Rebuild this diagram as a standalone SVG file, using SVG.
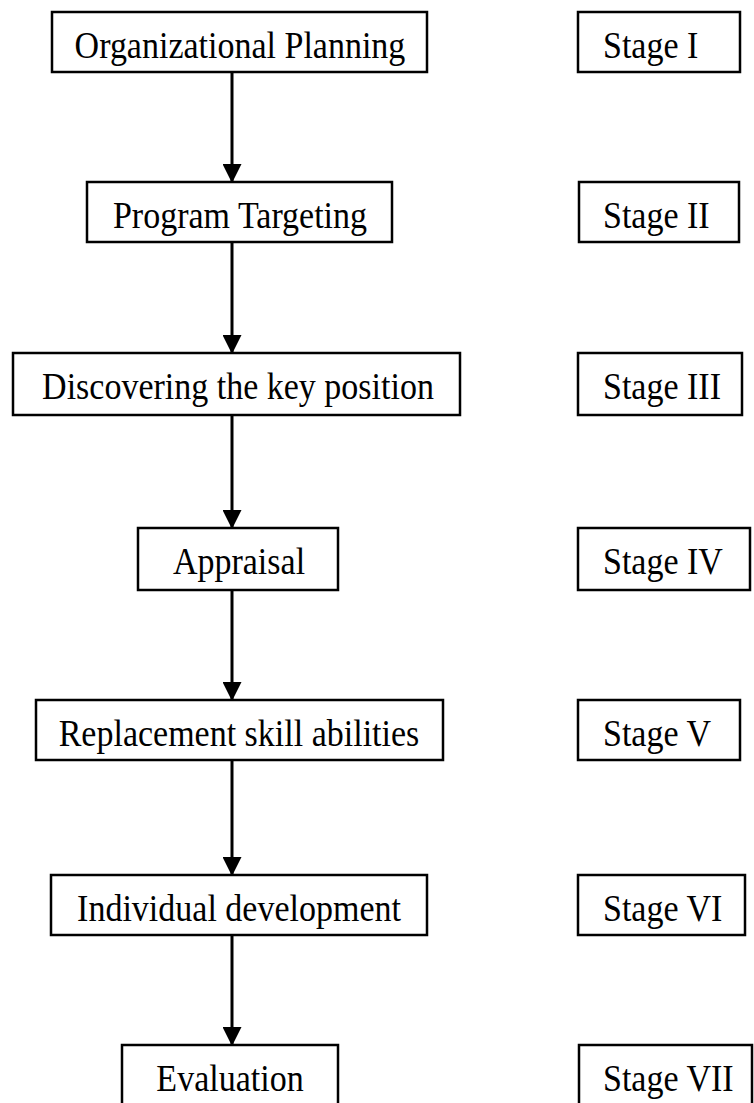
<svg xmlns="http://www.w3.org/2000/svg" width="754" height="1103" viewBox="0 0 754 1103">
<defs>
<style>
rect.box{fill:#fff;stroke:#000;stroke-width:2.5}
text{font-family:"Liberation Serif","Times New Roman",serif;font-size:34px;fill:#000}
text.c{text-anchor:middle}
.conn line{stroke:#000;stroke-width:3}
</style>
<marker id="ah" markerUnits="userSpaceOnUse" markerWidth="19" markerHeight="19" refX="18" refY="9.5" orient="auto" viewBox="0 0 19 19">
<path d="M0,0 L19,9.5 L0,19 z" fill="#000"/>
</marker>
</defs>
<rect width="754" height="1103" fill="#fff"/>
<g class="conn">
<line x1="232" y1="72" x2="232" y2="182" marker-end="url(#ah)"/>
<line x1="232" y1="242" x2="232" y2="353" marker-end="url(#ah)"/>
<line x1="232" y1="415" x2="232" y2="528" marker-end="url(#ah)"/>
<line x1="232" y1="590" x2="232" y2="700" marker-end="url(#ah)"/>
<line x1="232" y1="760" x2="232" y2="875" marker-end="url(#ah)"/>
<line x1="232" y1="935" x2="232" y2="1045" marker-end="url(#ah)"/>
</g>
<g id="n1"><rect class="box" x="52" y="12" width="375" height="60"/><text class="c" transform="translate(240,58) scale(1,1.1)">Organizational Planning</text></g>
<g id="n2"><rect class="box" x="87" y="182" width="305" height="60"/><text class="c" transform="translate(240,228) scale(1,1.1)">Program Targeting</text></g>
<g id="n3"><rect class="box" x="13" y="353" width="447" height="62"/><text class="c" transform="translate(238,399) scale(1,1.1)">Discovering the key position</text></g>
<g id="n4"><rect class="box" x="138" y="528" width="200" height="62"/><text class="c" transform="translate(239,574) scale(1,1.1)">Appraisal</text></g>
<g id="n5"><rect class="box" x="36" y="700" width="407" height="60"/><text class="c" transform="translate(239,746) scale(1,1.1)">Replacement skill abilities</text></g>
<g id="n6"><rect class="box" x="51" y="875" width="376" height="60"/><text class="c" transform="translate(239,921) scale(1,1.1)">Individual development</text></g>
<g id="n7"><rect class="box" x="122" y="1045" width="216" height="62"/><text class="c" transform="translate(230,1091) scale(1,1.1)">Evaluation</text></g>
<g id="s1"><rect class="box" x="578" y="12" width="162" height="60"/><text transform="translate(603,58) scale(1,1.1)">Stage I</text></g>
<g id="s2"><rect class="box" x="579" y="182" width="160" height="60"/><text transform="translate(603,228) scale(1,1.1)">Stage II</text></g>
<g id="s3"><rect class="box" x="578" y="353" width="164" height="62"/><text transform="translate(603,399) scale(1,1.1)">Stage III</text></g>
<g id="s4"><rect class="box" x="578" y="528" width="172" height="62"/><text transform="translate(603,574) scale(1,1.1)">Stage IV</text></g>
<g id="s5"><rect class="box" x="578" y="700" width="162" height="60"/><text transform="translate(603,746) scale(1,1.1)">Stage V</text></g>
<g id="s6"><rect class="box" x="578" y="875" width="167" height="60"/><text transform="translate(603,921) scale(1,1.1)">Stage VI</text></g>
<g id="s7"><rect class="box" x="579" y="1045" width="173" height="62"/><text transform="translate(603,1091) scale(1,1.1)">Stage VII</text></g>
</svg>
